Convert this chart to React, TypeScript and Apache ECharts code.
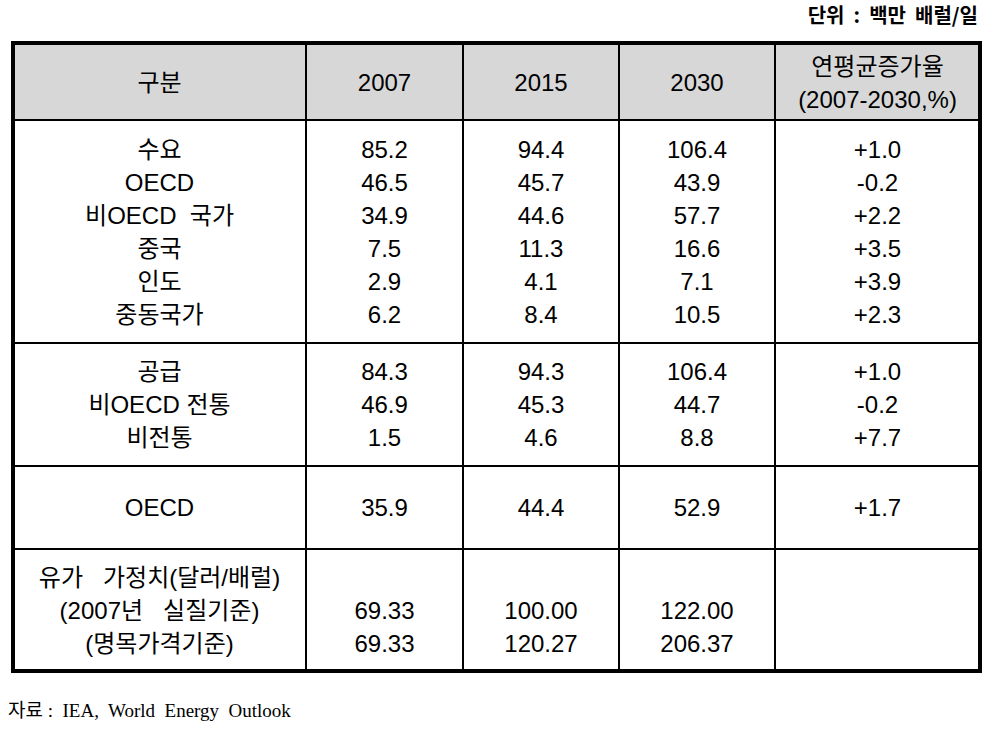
import React, { useEffect, useRef } from "react";
import * as echarts from "echarts";

// ---- data ----
const unitText = "단위  :  백만  배럴/일";
const sourceText = "자료 :  IEA,  World  Energy  Outlook";
const headerLabel = "구분";
const years = ["2007", "2015", "2030"];
const growthHeader = ["연평균증가율", "(2007-2030,%)"];

const rowLabels = [
  "수요",
  "OECD",
  "비OECD  국가",
  "중국",
  "인도",
  "중동국가",
  "공급",
  "비OECD 전통",
  "비전통",
  "OECD",
  "유가   가정치(달러/배럴)",
  "(2007년   실질기준)",
  "(명목가격기준)",
];
const values2007 = [85.2, 46.5, 34.9, 7.5, 2.9, 6.2, 84.3, 46.9, 1.5, 35.9, null, 69.33, 69.33];
const values2015 = [94.4, 45.7, 44.6, 11.3, 4.1, 8.4, 94.3, 45.3, 4.6, 44.4, null, 100.0, 120.27];
const values2030 = [106.4, 43.9, 57.7, 16.6, 7.1, 10.5, 106.4, 44.7, 8.8, 52.9, null, 122.0, 206.37];
const growthRates = [1.0, -0.2, 2.2, 3.5, 3.9, 2.3, 1.0, -0.2, 7.7, 1.7, null, null, null];
// rows per section (section groups of the table body)
const sectionSizes = [6, 3, 1, 3];
// decimals shown per row
const decimals = [1, 1, 1, 1, 1, 1, 1, 1, 1, 1, 1, 2, 2];

// ---- layout ----
const LEFT = 13;
const RIGHT = 980;
const TOP = 43;
const BOTTOM = 671;
const colX = [LEFT, 306, 463, 619, 775, RIGHT];
const rowBounds = [120, 343, 466, 549, BOTTOM];
const LINE_STEP = 33;
const FONT = '"Liberation Sans", Arial, "Noto Sans CJK KR", sans-serif';
const FS = 24;

function fmtVal(v: number | null, d: number) {
  if (v === null || v === undefined) return "";
  return v.toFixed(d);
}
function fmtGrowth(v: number | null) {
  if (v === null || v === undefined) return "";
  return (v > 0 ? "+" : "") + v.toFixed(1);
}

function rowY(i: number) {
  let start = 0;
  for (let s = 0; s < sectionSizes.length; s++) {
    const n = sectionSizes[s];
    if (i < start + n) {
      const center = (rowBounds[s] + rowBounds[s + 1]) / 2;
      return center + (i - start - (n - 1) / 2) * LINE_STEP;
    }
    start += n;
  }
  return 0;
}

function textEl(text: string, x: number, y: number, extra: any = {}) {
  return {
    type: "text",
    x,
    y,
    style: {
      text,
      fill: "#000",
      fontFamily: FONT,
      fontSize: FS,
      align: "center",
      verticalAlign: "middle",
      textAlign: "center",
      textVerticalAlign: "middle",
      ...extra,
    },
  };
}

export default function App() {
  const ref = useRef<HTMLDivElement>(null);
  useEffect(() => {
    if (!ref.current) return;
    const chart = echarts.init(ref.current, null, { renderer: "svg" });
    const colCenter = (c: number) => (colX[c] + colX[c + 1]) / 2;

    const lines: any[] = [];
    for (let c = 1; c < colX.length - 1; c++) {
      lines.push({
        type: "line",
        shape: { x1: colX[c], y1: TOP, x2: colX[c], y2: BOTTOM },
        style: { stroke: "#000", lineWidth: 2 },
        z: 2,
      });
    }
    for (let r = 0; r < rowBounds.length - 1; r++) {
      lines.push({
        type: "line",
        shape: { x1: LEFT, y1: rowBounds[r], x2: RIGHT, y2: rowBounds[r] },
        style: { stroke: "#000", lineWidth: 2 },
        z: 2,
      });
    }

    const headerTexts = [
      textEl(headerLabel, colCenter(0), (TOP + rowBounds[0]) / 2 + 1),
      ...years.map((y, k) => textEl(y, colCenter(k + 1), (TOP + rowBounds[0]) / 2 + 1)),
      textEl(growthHeader[0], colCenter(4), 66),
      textEl(growthHeader[1], colCenter(4), 99),
    ];

    const option: any = {
      animation: false,
      graphic: [
        {
          type: "rect",
          shape: { x: LEFT, y: TOP, width: RIGHT - LEFT, height: rowBounds[0] - TOP },
          style: { fill: "#d7d7d7" },
          z: 1,
        },
        ...lines,
        {
          type: "rect",
          shape: { x: LEFT, y: TOP, width: RIGHT - LEFT, height: BOTTOM - TOP },
          style: { fill: "none", stroke: "#000", lineWidth: 4 },
          z: 3,
        },
        ...headerTexts.map((t) => ({ ...t, z: 4 })),
        {
          type: "text",
          x: 978,
          y: 14,
          z: 4,
          style: {
            text: unitText,
            fill: "#000",
            fontFamily: '"Noto Sans CJK KR", sans-serif',
            fontWeight: "bold",
            fontSize: 20,
            align: "right",
            verticalAlign: "middle",
            textAlign: "right",
            textVerticalAlign: "middle",
          },
        },
        {
          type: "text",
          x: 8,
          y: 710,
          z: 4,
          style: {
            text: sourceText,
            fill: "#000",
            fontFamily: '"Liberation Serif", "Noto Sans CJK KR", serif',
            fontSize: 19,
            align: "left",
            verticalAlign: "middle",
            textAlign: "left",
            textVerticalAlign: "middle",
          },
        },
      ],
      series: [
        {
          type: "custom",
          coordinateSystem: "none",
          data: rowLabels.map((_, i) => i),
          z: 5,
          renderItem: (params: any) => {
            const i = params.dataIndex;
            const y = rowY(i);
            const d = decimals[i];
            const cells = [
              rowLabels[i],
              fmtVal(values2007[i], d),
              fmtVal(values2015[i], d),
              fmtVal(values2030[i], d),
              fmtGrowth(growthRates[i]),
            ];
            return {
              type: "group",
              children: cells
                .map((t, c) => (t ? textEl(t, colCenter(c), y) : null))
                .filter(Boolean),
            };
          },
        },
      ],
    };
    chart.setOption(option);
    return () => chart.dispose();
  }, []);
  return (
    <div
      ref={ref}
      style={{ position: "fixed", left: 0, top: 0, width: 993, height: 732, background: "#fff" }}
    />
  );
}
